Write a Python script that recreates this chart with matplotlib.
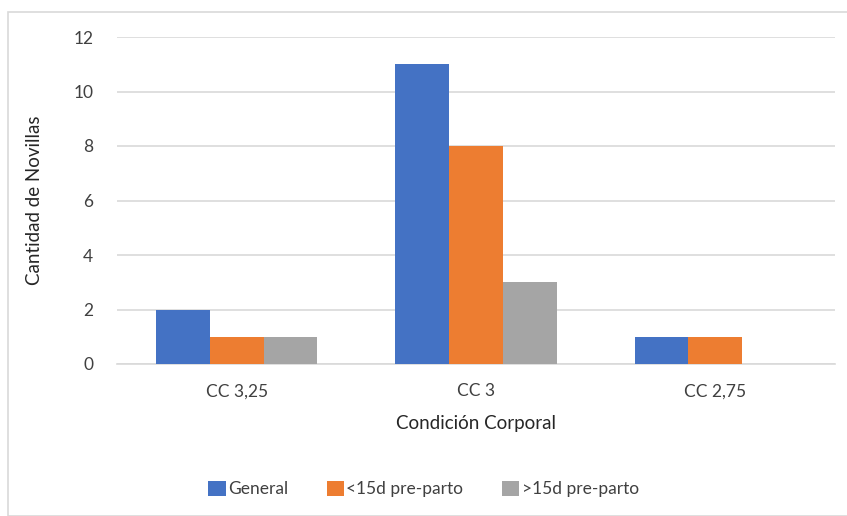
import numpy as np
import matplotlib.pyplot as plt
from matplotlib.patches import Rectangle

plt.rcParams['font.family'] = ['Lato', 'DejaVu Sans']

# data
categories = ["CC 3,25", "CC 3", "CC 2,75"]
series_names = ["General", "<15d pre-parto", ">15d pre-parto"]
general = [2, 11, 1]
menos15 = [1, 8, 1]
mas15 = [1, 3, 0]
colors = ["#4472C4", "#ED7D31", "#A5A5A5"]

fig = plt.figure(figsize=(8.47, 5.16), dpi=100)
# outer chart border like Excel
fig.patches.append(Rectangle((8 / 847, 0), 1.0, 1 - 12 / 516, transform=fig.transFigure,
                             fill=False, edgecolor="#d9d9d9", linewidth=1.2))

ax = fig.add_axes([117 / 847, 1 - 364 / 516, 718 / 847, (364 - 37) / 516])

x = np.arange(len(categories))
w = 0.225
for i, (vals, name) in enumerate(zip([general, menos15, mas15], series_names)):
    ax.bar(x + (i - 1) * w, vals, width=w, color=colors[i], label=name, zorder=3)

ax.set_xlim(-0.5, 2.5)
ax.set_ylim(0, 12)
ax.set_yticks(range(0, 13, 2))
ax.set_xticks(x)
ax.set_xticklabels(categories)
ax.grid(axis="y", color="#d9d9d9", linewidth=1.2, zorder=0)
for s in ["top", "right", "left"]:
    ax.spines[s].set_visible(False)
ax.spines["bottom"].set_color("#d9d9d9")
ax.spines["bottom"].set_linewidth(1.2)
ax.tick_params(axis="both", length=0, labelsize=12.5, colors="#404040")
ax.tick_params(axis="x", pad=14)
ax.tick_params(axis="y", pad=17)

ax.set_xlabel("Condición Corporal", fontsize=13.5, color="#262626", labelpad=11)
ax.set_ylabel("Cantidad de Novillas", fontsize=13.5, color="#262626", labelpad=22)

ax.legend(loc="center", bbox_to_anchor=(0.5, 1 - 489 / 516), bbox_transform=fig.transFigure,
          ncol=3, frameon=False, fontsize=12.5, handlelength=1.0, handleheight=1.0,
          handletextpad=0.15, columnspacing=2.2, labelcolor="#404040")

fig.savefig("out.png", dpi=100)
